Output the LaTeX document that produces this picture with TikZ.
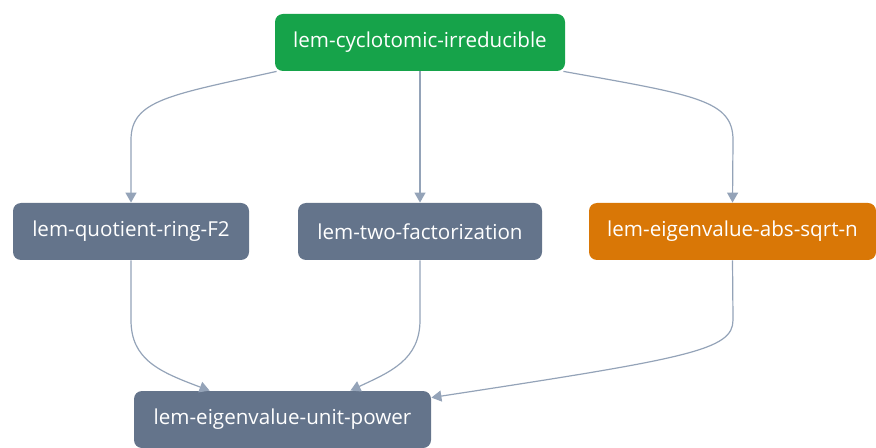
\documentclass[tikz,border=0pt]{standalone}
\usepackage{fontspec}
\setmainfont{Open Sans}
\usetikzlibrary{arrows.meta}
\definecolor{lemgreen}{RGB}{22,163,74}
\definecolor{lemslate}{RGB}{100,116,139}
\definecolor{lemorange}{RGB}{217,119,6}
\definecolor{edgegray}{RGB}{148,163,184}
\begin{document}
\begin{tikzpicture}[x=0.5pt,y=-0.5pt,
  lem/.style={rounded corners=4pt,text=white,minimum height=28.5pt,inner sep=0pt,font=\fontsize{10.3}{12}\selectfont},
  dep/.style={draw=edgegray,line width=0.6pt,-{Triangle[width=5.5pt,length=5pt]}}]
\useasboundingbox (0,0) rectangle (876,448);
\node[lem,fill=lemgreen,minimum width=145pt] (cyc) at (420,42.5){lem-cyclotomic-irreducible};
\node[lem,fill=lemslate,minimum width=118pt] (quot) at (131,231.5){lem-quotient-ring-F2};
\node[lem,fill=lemslate,minimum width=122pt] (two) at (420,231.5){lem-two-factorization};
\node[lem,fill=lemorange,minimum width=143.5pt] (abs) at (732.5,231.5){lem-eigenvalue-abs-sqrt-n};
\node[lem,fill=lemslate,minimum width=148.5pt] (unit) at (282.5,419.5){lem-eigenvalue-unit-power};
\draw[dep] ([xshift=1pt]cyc.south west) .. controls (170,95) and (131,100) .. (131,140) -- (quot.north);
\draw[dep] (cyc.south) -- (two.north);
\draw[dep] ([xshift=-1pt]cyc.south east) .. controls (695,95) and (733,100) .. (733,140) -- (abs.north);
\draw[dep] (quot.south) -- (131,320) .. controls (131,360) and (160,372) .. ([xshift=38pt]unit.north west);
\draw[dep] (two.south) -- (420,320) .. controls (420,360) and (390,372) .. ([xshift=-40.5pt]unit.north east);
\draw[dep] (abs.south) -- (733,320) .. controls (733,350) and (690,358) .. ([yshift=-3.5pt]unit.north east);
\end{tikzpicture}
\end{document}
